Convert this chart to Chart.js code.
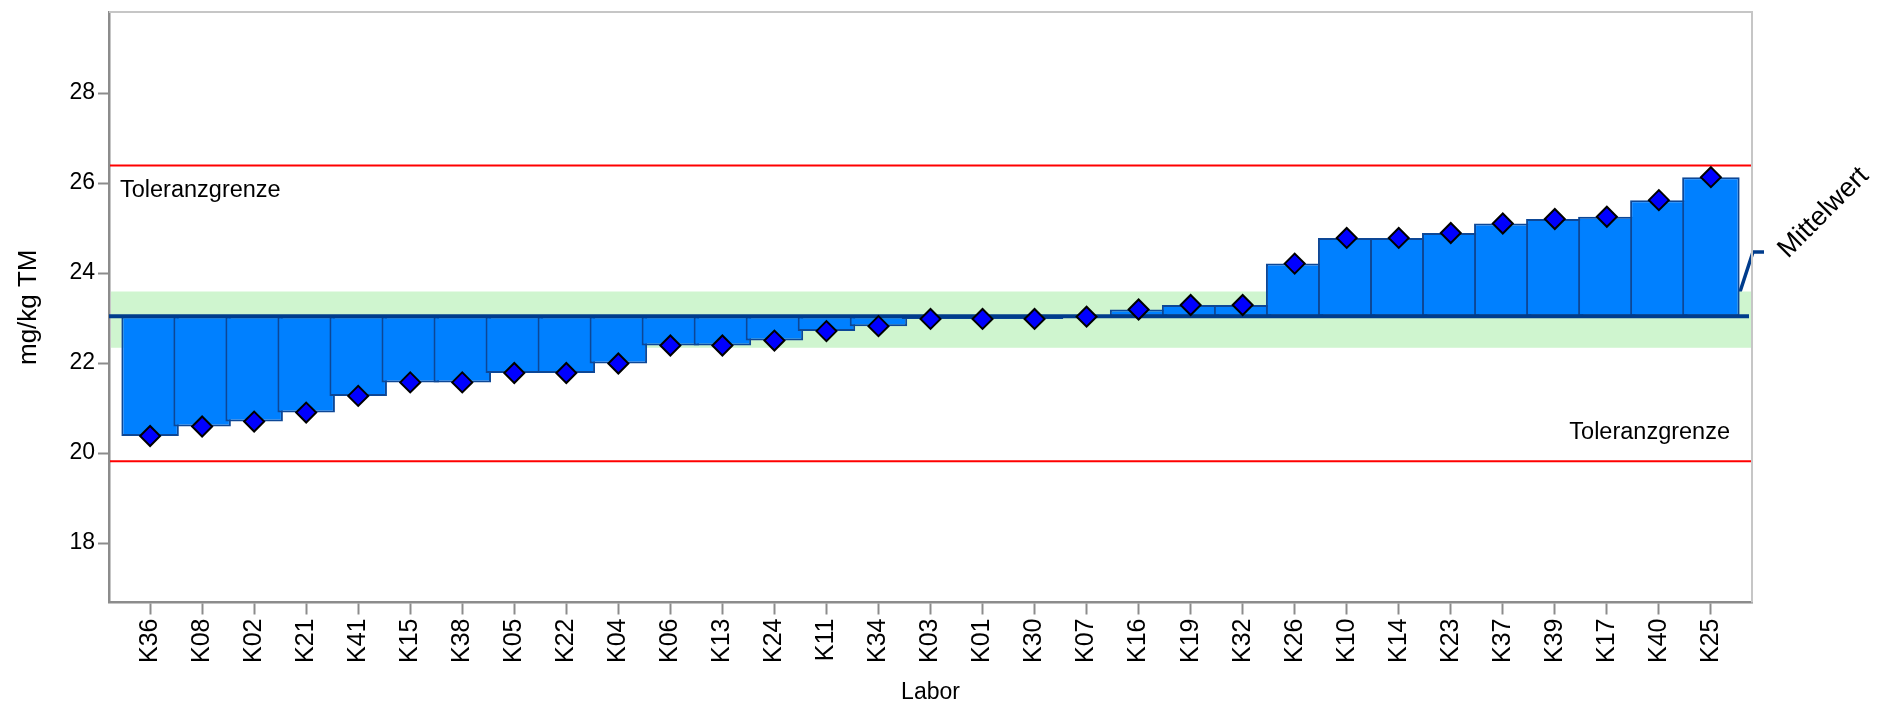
<!DOCTYPE html>
<html>
<head>
<meta charset="utf-8">
<script src="https://cdn.jsdelivr.net/npm/chart.js@4.4.1/dist/chart.umd.min.js"></script>
<style>
  html, body { margin: 0; padding: 0; background: #fff; }
</style>
</head>
<body>
<canvas id="chart" width="1878" height="704"></canvas>
<script>
'use strict';

// Labore, sortiert nach Messwert
var labs = ['K36', 'K08', 'K02', 'K21', 'K41', 'K15', 'K38', 'K05', 'K22', 'K04',
            'K06', 'K13', 'K24', 'K11', 'K34', 'K03', 'K01', 'K30', 'K07', 'K16',
            'K19', 'K32', 'K26', 'K10', 'K14', 'K23', 'K37', 'K39', 'K17', 'K40', 'K25'];
var values = [20.38, 20.59, 20.70, 20.90, 21.27, 21.57, 21.57, 21.78, 21.78, 21.99,
              22.39, 22.39, 22.50, 22.71, 22.82, 22.98, 22.98, 22.98, 23.03, 23.19,
              23.29, 23.29, 24.21, 24.78, 24.78, 24.89, 25.10, 25.20, 25.25, 25.62, 26.13];
var mittelwert = 23.04;
var bandLow = 22.34, bandHigh = 23.59;
var tolLow = 19.82, tolHigh = 26.39;
var yTicks = [18, 20, 22, 24, 26, 28];

var FONT = "'Liberation Sans', Arial, sans-serif";
Chart.defaults.font.family = FONT;
Chart.defaults.color = '#000';

var refLines = {
  id: 'refLines',
  beforeDatasetsDraw: function(chart) {
    var ctx = chart.ctx, a = chart.chartArea;
    var y = chart.scales.y;
    var pm = y.getPixelForValue(mittelwert);
    var yl = y.getPixelForValue(24.47);
    ctx.save();
    // Hinweislinie Mittelwert (liegt hinter Band und Balken)
    ctx.strokeStyle = '#003c8c';
    ctx.lineWidth = 3.5;
    ctx.beginPath();
    ctx.moveTo(a.right - 20, pm);
    ctx.lineTo(a.right + 1, yl);
    ctx.lineTo(a.right + 12, yl);
    ctx.stroke();
    ctx.fillStyle = '#000';
    ctx.font = '27px ' + FONT;
    ctx.save();
    ctx.translate(a.right + 36, yl + 7);
    ctx.rotate(-Math.PI / 4);
    ctx.textAlign = 'left';
    ctx.textBaseline = 'alphabetic';
    ctx.fillText('Mittelwert', 0, 0);
    ctx.restore();
    // Toleranzband um den Mittelwert
    ctx.fillStyle = '#cff5cf';
    var yb1 = y.getPixelForValue(bandHigh), yb2 = y.getPixelForValue(bandLow);
    ctx.fillRect(a.left + 2, yb1, a.right - a.left - 1, yb2 - yb1);
    // Toleranzgrenzen
    ctx.strokeStyle = '#ff0000';
    ctx.lineWidth = 2;
    [tolHigh, tolLow].forEach(function(v) {
      var py = y.getPixelForValue(v);
      ctx.beginPath();
      ctx.moveTo(a.left + 1, py);
      ctx.lineTo(a.right, py);
      ctx.stroke();
    });
    ctx.fillStyle = '#000';
    ctx.font = '23.5px ' + FONT;
    ctx.textBaseline = 'middle';
    ctx.textAlign = 'left';
    ctx.fillText('Toleranzgrenze', a.left + 11, y.getPixelForValue(tolHigh) + 25);
    ctx.textAlign = 'right';
    ctx.fillText('Toleranzgrenze', a.right - 22, y.getPixelForValue(tolLow) - 29);
    // Rahmen oben und rechts
    ctx.strokeStyle = '#c6c6c6';
    ctx.lineWidth = 2;
    ctx.beginPath();
    ctx.moveTo(a.left, a.top);
    ctx.lineTo(a.right, a.top);
    ctx.lineTo(a.right, a.bottom);
    ctx.stroke();
    ctx.restore();
  },
  afterDatasetDraw: function(chart, args) {
    if (args.index !== 1) return;
    var ctx = chart.ctx, a = chart.chartArea;
    var pm = chart.scales.y.getPixelForValue(mittelwert);
    ctx.save();
    ctx.strokeStyle = '#003c8c';
    ctx.lineWidth = 4;
    ctx.beginPath();
    ctx.moveTo(a.left, pm);
    ctx.lineTo(a.right - 3, pm);
    ctx.stroke();
    ctx.restore();
  }
};

new Chart(document.getElementById('chart'), {
  data: {
    datasets: [{
      type: 'scatter',
      data: values.map(function(v, i) { return { x: i, y: v }; }),
      pointStyle: 'rectRot',
      pointRadius: 10,
      backgroundColor: '#0000ff',
      borderColor: '#000',
      borderWidth: 2
    }, {
      type: 'bar',
      data: values.map(function(v, i) { return { x: i, y: [mittelwert, v] }; }),
      backgroundColor: '#0080ff',
      borderColor: '#0d4796',
      borderWidth: 2,
      borderSkipped: false,
      barPercentage: 1.105,
      categoryPercentage: 1
    }]
  },
  plugins: [refLines],
  options: {
    responsive: false,
    animation: false,
    layout: { padding: { top: 7, right: 126, left: 0, bottom: 0 } },
    plugins: { legend: { display: false }, tooltip: { enabled: false } },
    scales: {
      x: {
        type: 'linear',
        min: -0.79,
        max: 30.79,
        offset: false,
        afterBuildTicks: function(s) { s.ticks = labs.map(function(l, i) { return { value: i }; }); },
        afterFit: function(s) { s.height = 101.5; s.paddingLeft = 0; s.paddingRight = 0; },
        ticks: {
          autoSkip: false, minRotation: 90, maxRotation: 90, padding: 4,
          font: { size: 25 },
          callback: function(v) { return labs[v]; }
        },
        grid: { offset: false, drawOnChartArea: false, tickLength: 12, tickColor: '#8c8c8c', tickWidth: 2 },
        border: { color: '#8c8c8c', width: 2.5 },
        title: { display: true, text: 'Labor', font: { size: 23, lineHeight: 1 }, padding: { top: 0, bottom: 0 } }
      },
      y: {
        min: 16.68,
        max: 29.8,
        afterBuildTicks: function(s) { s.ticks = yTicks.map(function(v) { return { value: v }; }); },
        afterFit: function(s) { s.width = 109; s.paddingTop = 0; s.paddingBottom = 0; },
        ticks: { font: { size: 23 }, padding: 3 },
        grid: { drawOnChartArea: false, tickLength: 11, tickColor: '#8c8c8c', tickWidth: 2 },
        border: { color: '#8c8c8c', width: 2.5 },
        title: { display: true, text: 'mg/kg TM', font: { size: 26, lineHeight: 1.2 }, padding: { top: 13, bottom: 0 } }
      }
    }
  }
});
</script>
</body>
</html>
